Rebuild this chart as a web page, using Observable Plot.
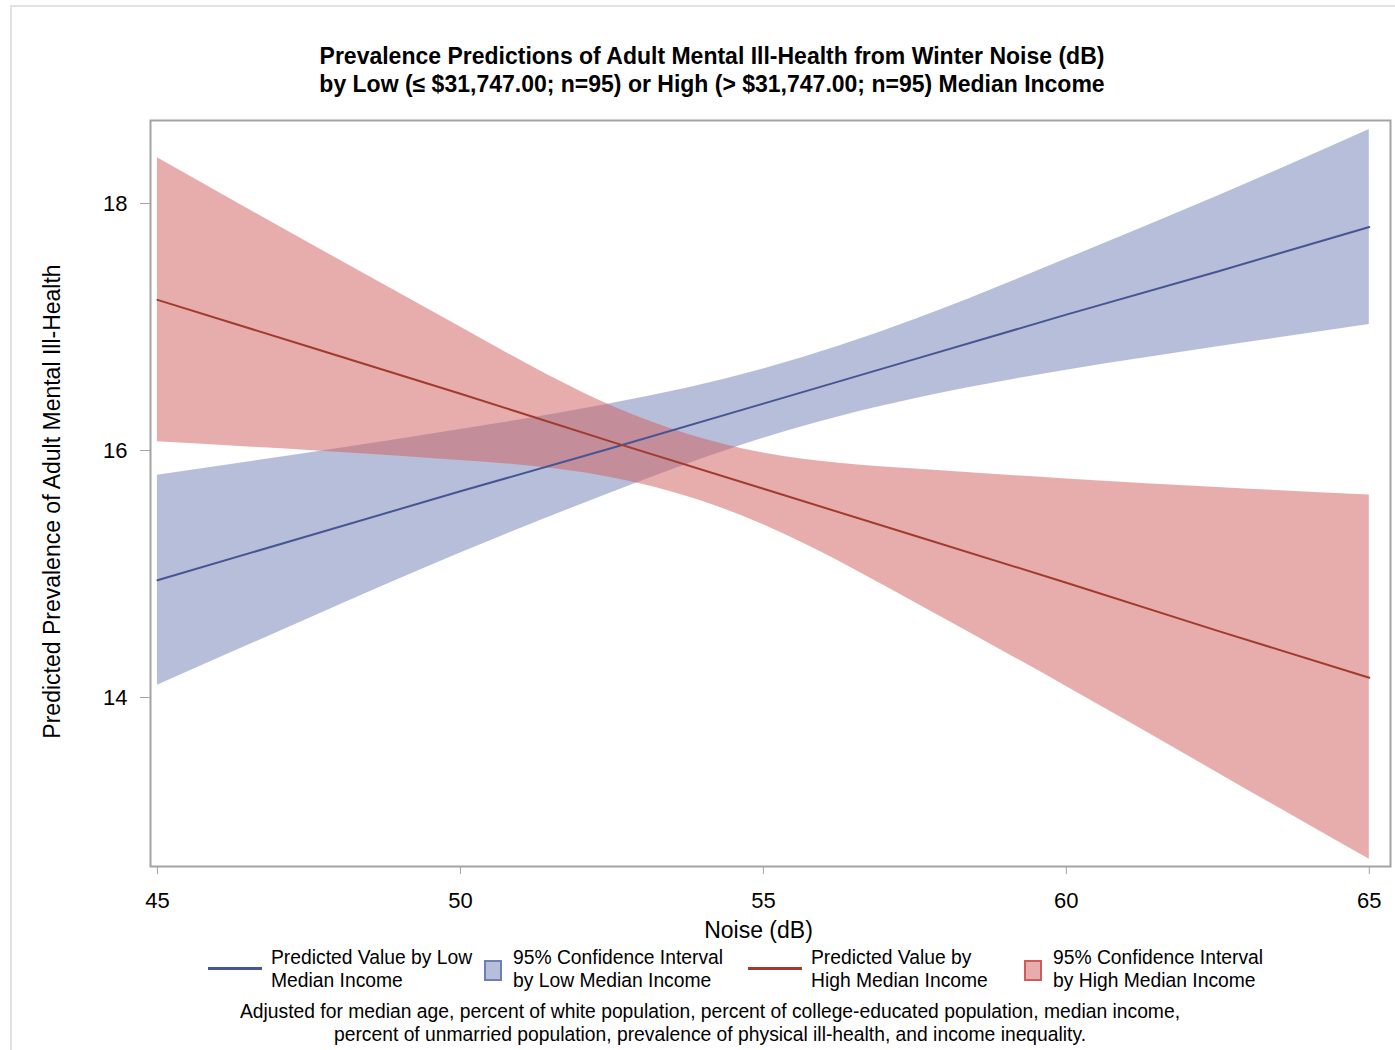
<!DOCTYPE html>
<html><head><meta charset="utf-8">
<script src="https://cdn.jsdelivr.net/npm/d3@7"></script>
<script src="https://cdn.jsdelivr.net/npm/@observablehq/plot@0.6"></script>
<style>
body{margin:0;background:#fff;font-family:"Liberation Sans",Arial,sans-serif;color:#000;}
#page{position:relative;width:1395px;height:1050px;overflow:hidden;background:#fff;}
#border{position:absolute;left:10px;top:5px;width:1400px;height:1060px;border:2px solid #e2e2e2;box-sizing:border-box;}
.title{position:absolute;left:0;width:1424px;text-align:center;font-weight:bold;font-size:23px;line-height:28px;white-space:nowrap;}
#chart{position:absolute;left:0;top:100px;}
.leg{position:absolute;font-size:19.3px;line-height:23px;white-space:nowrap;}
.lsw{position:absolute;height:3px;width:54px;}
.bsw{position:absolute;width:14px;height:17px;box-sizing:content-box;}
.foot{position:absolute;left:0;width:1420px;text-align:center;font-size:19.3px;line-height:23px;white-space:nowrap;}
</style>
</head><body>
<div id="page">
  <div id="border"></div>
  <div class="title" style="top:42px">Prevalence Predictions of Adult Mental Ill-Health from Winter Noise (dB)</div>
  <div class="title" style="top:70px">by Low (≤ $31,747.00; n=95) or High (&gt; $31,747.00; n=95) Median Income</div>
  <div id="chart"></div>
  <div id="legend"></div>
  <div class="foot" style="top:1000px">Adjusted for median age, percent of white population, percent of college-educated population, median income,<br>percent of unmarried population, prevalence of physical ill-health, and income inequality.</div>
</div>
<script>
// Data
const noise      = [45, 47.5, 50, 52.5, 55, 57.5, 60, 62.5, 65];
const lowPred    = [14.95, 15.31, 15.67, 16.02, 16.38, 16.74, 17.10, 17.45, 17.81];
const lowUpper   = [15.80, 15.98, 16.17, 16.38, 16.66, 17.06, 17.55, 18.06, 18.60];
const lowLower   = [14.10, 14.64, 15.17, 15.66, 16.10, 16.42, 16.65, 16.84, 17.02];
const highPred   = [17.22, 16.84, 16.46, 16.07, 15.69, 15.31, 14.93, 14.54, 14.16];
const highUpper  = [18.37, 17.68, 17.00, 16.36, 15.98, 15.85, 15.77, 15.70, 15.64];
const highLower  = [16.07, 16.00, 15.92, 15.78, 15.40, 14.77, 14.09, 13.39, 12.69];
const xTicks = [45, 50, 55, 60, 65];
const yTicks = [14, 16, 18];
const xLabel = "Noise (dB)";
const yLabel = "Predicted Prevalence of Adult Mental Ill-Health";
const legendItems = [
  {type: "line", color: "#445694", text: ["Predicted Value by Low", "Median Income"]},
  {type: "box", color: "#6F7EB3", text: ["95% Confidence Interval", "by Low Median Income"]},
  {type: "line", color: "#A23A2E", text: ["Predicted Value by", "High Median Income"]},
  {type: "box", color: "#D05B5B", text: ["95% Confidence Interval", "by High Median Income"]}
];

const rows = noise.map((x, i) => ({
  x, lowPred: lowPred[i], lowUpper: lowUpper[i], lowLower: lowLower[i],
  highPred: highPred[i], highUpper: highUpper[i], highLower: highLower[i]
}));

const chart = Plot.plot({
  width: 1395, height: 845,
  marginLeft: 150, marginRight: 5, marginTop: 20, marginBottom: 79,
  style: {fontFamily: "Liberation Sans, Arial, sans-serif", background: "transparent", overflow: "visible"},
  x: {domain: [44.885, 65.35]},
  y: {domain: [12.632, 18.672]},
  marks: [
    Plot.areaY(rows, {x: "x", y1: "lowLower", y2: "lowUpper", fill: "#6F7EB3", fillOpacity: 0.5, curve: "natural"}),
    Plot.areaY(rows, {x: "x", y1: "highLower", y2: "highUpper", fill: "#D05B5B", fillOpacity: 0.5, curve: "natural"}),
    Plot.line(rows, {x: "x", y: "lowPred", stroke: "#445694", strokeWidth: 2}),
    Plot.line(rows, {x: "x", y: "highPred", stroke: "#A23A2E", strokeWidth: 2}),
    Plot.frame({stroke: "#a3a3a3", strokeWidth: 2}),
    Plot.axisX({ticks: xTicks, tickFormat: d => String(d), tickSize: 8, tickPadding: 18, fontSize: 22, stroke: "#a3a3a3", fill: "#000", label: null}),
    Plot.axisY({ticks: yTicks, tickFormat: d => String(d), tickSize: 10, tickPadding: 13, fontSize: 22, stroke: "#a3a3a3", fill: "#000", label: null}),
    Plot.text([xLabel], {frameAnchor: "bottom", dx: -12, dy: 71, fontSize: 23, fill: "#000"}),
    Plot.text([yLabel], {frameAnchor: "left", textAnchor: "middle", dx: -98, dy: 8, rotate: -90, fontSize: 23, fill: "#000"})
  ]
});
document.getElementById("chart").appendChild(chart);

// Legend
const lx = [208, 484, 748, 1024];
const leg = document.getElementById("legend");
legendItems.forEach((d, i) => {
  const sw = document.createElement("div");
  if (d.type === "line") {
    sw.className = "lsw";
    sw.style.left = lx[i] + "px"; sw.style.top = "967px"; sw.style.background = d.color;
  } else {
    sw.className = "bsw";
    sw.style.left = lx[i] + "px"; sw.style.top = "960px";
    sw.style.border = "2px solid " + d.color;
    sw.style.background = d.color + "80";
  }
  leg.appendChild(sw);
  const t = document.createElement("div");
  t.className = "leg";
  t.style.left = (lx[i] + (d.type === "line" ? 63 : 29)) + "px";
  t.style.top = "946px";
  t.innerHTML = d.text.join("<br>");
  leg.appendChild(t);
});
</script>
</body></html>
